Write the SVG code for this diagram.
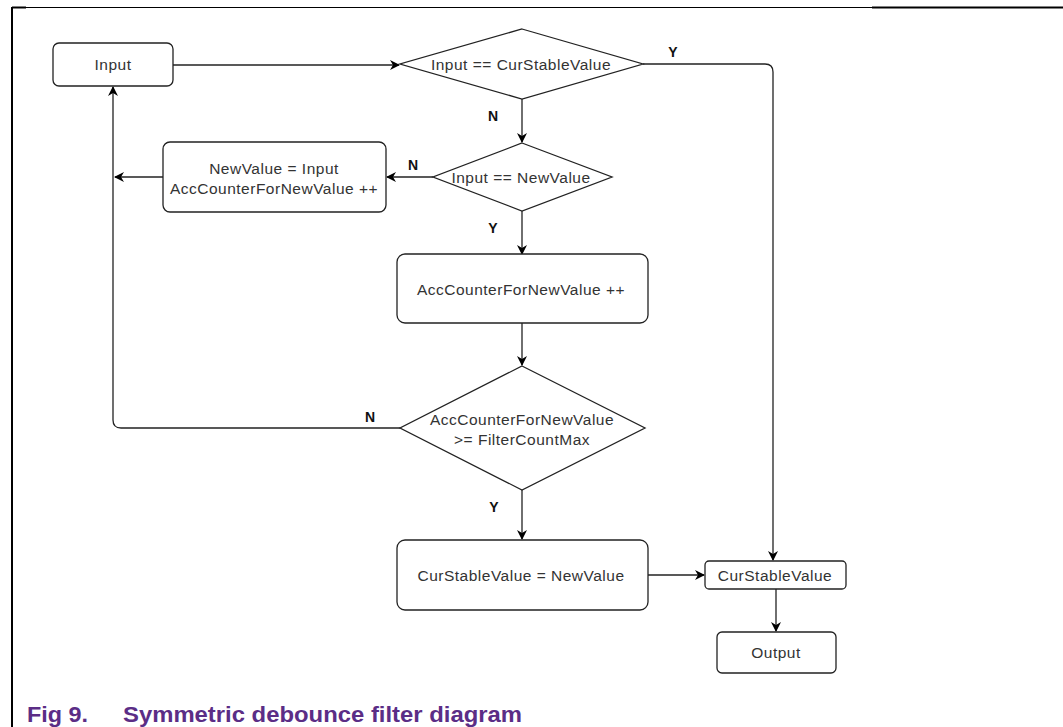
<svg xmlns="http://www.w3.org/2000/svg" width="1063" height="727" viewBox="0 0 1063 727">
<defs>
<marker id="arr" viewBox="0 0 10 10" refX="9" refY="5" markerWidth="10" markerHeight="10" markerUnits="userSpaceOnUse" orient="auto">
<path d="M0,0 L10,5 L0,10 L3,5 Z" fill="#000"/>
</marker>
<style>
.box{fill:#fff;stroke:#222;stroke-width:1.3}
.t{font-family:"Liberation Sans",Arial,sans-serif;font-size:15.5px;letter-spacing:0.5px;fill:#333;text-anchor:middle}
.lbl{font-family:"Liberation Sans",Arial,sans-serif;font-size:14px;font-weight:bold;fill:#111;text-anchor:middle}
.c{fill:none;stroke:#222;stroke-width:1.3}
.cap{font-family:"Liberation Sans",Arial,sans-serif;font-size:22px;font-weight:bold;fill:#5b2d86}
</style>
</defs>
<rect width="1063" height="727" fill="#fff"/>
<g id="frame">
<line x1="12" y1="7" x2="12" y2="727" stroke="#000" stroke-width="2"/>
<line x1="12" y1="7.5" x2="872" y2="7.5" stroke="#000" stroke-width="1"/>
<line x1="12" y1="7.5" x2="26" y2="7.5" stroke="#000" stroke-width="2"/>
<line x1="872" y1="7.5" x2="1063" y2="7.5" stroke="#000" stroke-width="2"/>
</g>
<g id="connectors">
<path class="c" d="M173,65 L399,65" marker-end="url(#arr)"/>
<path class="c" d="M643,64 L765,64 Q773,64 773,72 L773,560" marker-end="url(#arr)"/>
<path class="c" d="M522,99 L522,142" marker-end="url(#arr)"/>
<path class="c" d="M433,177 L387,177" marker-end="url(#arr)"/>
<path class="c" d="M163,177 L115,177" marker-end="url(#arr)"/>
<path class="c" d="M400,428 L121,428 Q113,428 113,420 L113,87" marker-end="url(#arr)"/>
<path class="c" d="M522,211 L522,254" marker-end="url(#arr)"/>
<path class="c" d="M522,323 L522,365" marker-end="url(#arr)"/>
<path class="c" d="M522,490 L522,539" marker-end="url(#arr)"/>
<path class="c" d="M648,575 L704,575" marker-end="url(#arr)"/>
<path class="c" d="M776,589 L776,631" marker-end="url(#arr)"/>
<text class="lbl" x="673" y="57">Y</text>
<text class="lbl" x="493" y="121">N</text>
<text class="lbl" x="413" y="170">N</text>
<text class="lbl" x="493" y="233">Y</text>
<text class="lbl" x="370" y="422">N</text>
<text class="lbl" x="494" y="512">Y</text>
</g>
<g id="input">
<rect class="box" x="53" y="43" width="120" height="43" rx="6"/>
<text class="t" x="113" y="70">Input</text>
</g>
<g id="dec1">
<polygon class="box" points="522,29 643,64 522,99 400,64"/>
<text class="t" x="521" y="70">Input == CurStableValue</text>
</g>
<g id="dec2">
<polygon class="box" points="522,143 612,177 522,211 433,177"/>
<text class="t" x="521" y="183">Input == NewValue</text>
</g>
<g id="newval">
<rect class="box" x="163" y="142" width="223" height="70" rx="7"/>
<text class="t" x="274" y="174">NewValue = Input</text>
<text class="t" x="274" y="194">AccCounterForNewValue ++</text>
</g>
<g id="acc">
<rect class="box" x="397" y="254" width="251" height="69" rx="8"/>
<text class="t" x="521" y="295">AccCounterForNewValue ++</text>
</g>
<g id="dec3">
<polygon class="box" points="522,366 645,428 522,490 400,428"/>
<text class="t" x="522" y="425">AccCounterForNewValue</text>
<text class="t" x="522" y="445">&gt;= FilterCountMax</text>
</g>
<g id="setstable">
<rect class="box" x="397" y="540" width="251" height="70" rx="8"/>
<text class="t" x="521" y="581">CurStableValue = NewValue</text>
</g>
<g id="curstable">
<rect class="box" x="705" y="561" width="141" height="28" rx="4"/>
<text class="t" x="775" y="581">CurStableValue</text>
</g>
<g id="output">
<rect class="box" x="717" y="632" width="119" height="41" rx="5"/>
<text class="t" x="776" y="658">Output</text>
</g>
<g id="caption">
<text class="cap" x="27" y="722" textLength="61" lengthAdjust="spacingAndGlyphs">Fig 9.</text>
<text class="cap" x="123" y="722" textLength="399" lengthAdjust="spacingAndGlyphs">Symmetric debounce filter diagram</text>
</g>
</svg>
